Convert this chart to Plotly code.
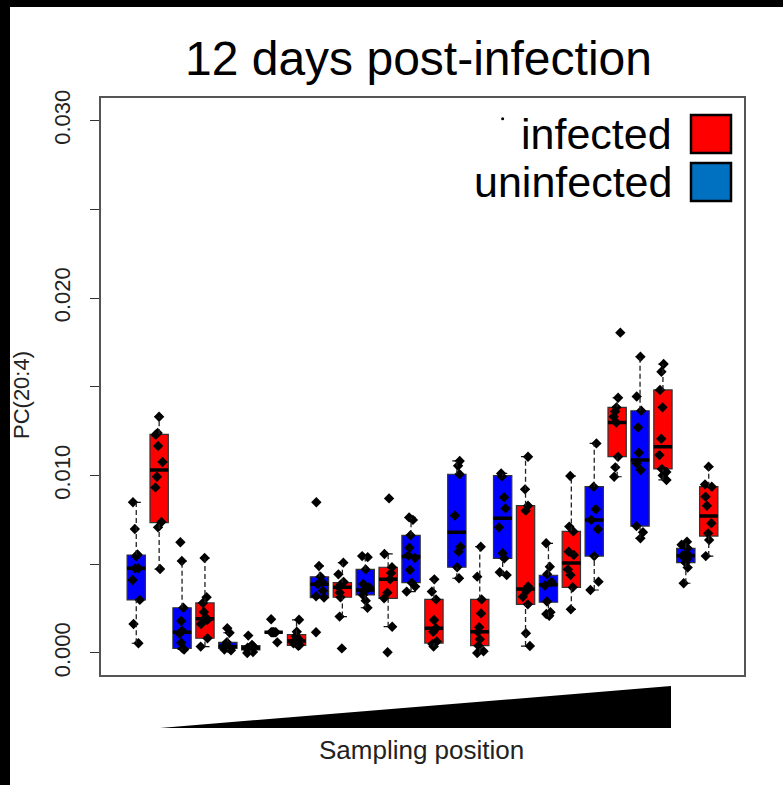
import plotly.graph_objects as go

# ---------------- data (in units of 1e-3) ----------------
positions = list(range(1, 27))
status = ["uninfected", "infected"] * 13

whisker_low = [0.55, 4.73, 0.20, 0.36, 0.15, 0.00, 1.17, 0.40, 3.12, 2.05, 2.55, 1.48, 3.46,
               0.36, 4.21, 0.00, 4.39, 0.39, 2.05, 2.46, 3.55, 9.93, 6.46, 9.75, 3.93, 5.46]
quart1 = [2.99, 7.34, 0.26, 0.83, 0.26, 0.17, 1.17, 0.43, 3.12, 3.14, 3.27, 3.08, 3.96,
          0.56, 4.83, 0.41, 5.33, 2.74, 2.86, 3.70, 5.46, 11.06, 7.15, 10.37, 5.09, 6.59]
medians = [4.77, 10.31, 1.17, 1.93, 0.36, 0.28, 1.17, 0.67, 3.87, 3.70, 3.55, 4.15, 5.43,
           1.39, 6.80, 1.20, 7.59, 3.61, 3.85, 5.07, 7.49, 12.98, 10.87, 11.62, 5.48, 7.72]
quart3 = [5.52, 12.32, 2.55, 2.82, 0.60, 0.41, 1.17, 1.03, 4.29, 3.96, 4.71, 4.83, 6.63,
          3.02, 10.07, 3.02, 9.99, 8.30, 4.38, 6.85, 9.37, 13.84, 13.65, 14.82, 5.90, 9.37]
whisker_high = [8.49, 13.31, 5.18, 5.35, 1.14, 0.45, 1.17, 1.87, 4.90, 5.09, 5.46, 5.58, 7.64,
                4.15, 10.82, 5.99, 10.12, 11.06, 6.18, 9.97, 11.81, 14.38, 16.69, 16.28, 6.27, 10.50]

points = [
    [0.55, 1.63, 2.99, 4.11, 4.77, 4.77, 5.45, 5.55, 6.99, 8.49],
    [4.73, 7.08, 7.38, 9.33, 9.93, 10.76, 11.66, 12.30, 12.40, 13.31],
    [0.20, 0.26, 0.58, 1.10, 1.25, 1.80, 2.55, 5.18, 6.24],
    [0.36, 0.83, 1.63, 1.85, 2.00, 2.31, 2.82, 3.14, 5.35],
    [0.15, 0.20, 0.25, 0.30, 0.36, 0.45, 0.60, 1.14, 1.39],
    [0.00, 0.05, 0.12, 0.20, 0.25, 0.30, 0.35, 0.45, 0.98],
    [0.60, 1.17, 1.17, 1.17, 1.17, 1.17, 1.90],
    [0.40, 0.45, 0.55, 0.67, 0.80, 0.95, 1.20, 1.87],
    [1.17, 3.12, 3.20, 3.50, 3.87, 4.00, 4.30, 4.90, 8.49],
    [0.26, 2.05, 3.14, 3.40, 3.70, 3.85, 4.00, 4.43, 5.09],
    [2.55, 2.95, 3.27, 3.45, 3.70, 3.89, 4.71, 5.40, 5.46],
    [0.04, 1.48, 3.08, 3.40, 4.15, 4.50, 4.83, 5.58, 8.71],
    [3.46, 3.74, 3.96, 4.68, 5.35, 5.50, 5.93, 6.63, 7.50, 7.64],
    [0.36, 0.50, 0.65, 1.20, 1.39, 1.86, 3.02, 3.46, 4.15],
    [4.21, 4.83, 5.71, 5.99, 7.74, 10.07, 10.55, 10.82],
    [0.00, 0.10, 0.41, 0.77, 1.20, 1.45, 2.23, 3.02, 4.30, 5.99],
    [4.39, 4.55, 5.33, 5.62, 7.08, 8.15, 8.77, 9.95, 10.12],
    [0.39, 1.11, 2.74, 3.17, 3.50, 3.75, 8.02, 8.30, 9.22, 11.06],
    [2.10, 2.20, 2.30, 2.90, 3.80, 4.00, 4.44, 4.86, 6.18],
    [2.46, 3.70, 4.39, 4.71, 5.52, 5.71, 6.85, 7.12, 9.97],
    [3.55, 4.02, 5.46, 6.97, 7.50, 8.10, 9.37, 11.81],
    [9.93, 10.46, 11.06, 12.98, 13.31, 13.60, 13.84, 14.38, 18.05],
    [6.46, 6.80, 7.15, 10.31, 10.69, 11.28, 12.71, 13.65, 14.45, 16.69],
    [9.75, 10.00, 10.20, 10.37, 11.15, 12.07, 13.84, 14.82, 15.85, 16.28],
    [3.93, 4.81, 5.09, 5.30, 5.48, 5.60, 5.90, 6.10, 6.27],
    [5.46, 6.37, 6.74, 7.31, 8.30, 8.81, 9.37, 9.50, 10.50],
]
stray_pos = [17]
stray_val = [30.1]

y_ticks = [0.0, 0.005, 0.010, 0.015, 0.020, 0.025, 0.030]
y_tick_labels = ["0.000", "", "0.010", "", "0.020", "", "0.030"]
legend_labels = ["infected", "uninfected"]

UNIT = 1e-3
FILL = {"infected": "#FF0000", "uninfected": "#0000FF"}
LEGEND_FILL = {"infected": "#FF0000", "uninfected": "#0070C0"}
BOX_W = 0.8
CAP_W = 0.4
FONT = "Liberation Sans, Arial, Helvetica, sans-serif"

W, H = 783, 785
L, R, T, B = 101, 39, 98, 110
PW, PH = W - L - R, H - T - B


def px_x(px):
    return (px - L) / PW


def px_y(py):
    return (H - B - py) / PH


def scaled(vals):
    return [v * UNIT for v in vals]


fig = go.Figure()

# dashed whiskers
wx, wy = [], []
for p, lo, a, b, hi in zip(positions, whisker_low, quart1, quart3, whisker_high):
    wx += [p, p, None, p, p, None]
    wy += [lo * UNIT, a * UNIT, None, b * UNIT, hi * UNIT, None]
fig.add_trace(go.Scatter(x=wx, y=wy, mode="lines", hoverinfo="skip",
                         line=dict(color="#222222", width=1.3, dash="5px,3px"), showlegend=False))

for grp in ["uninfected", "infected"]:
    idx = [i for i, s in enumerate(status) if s == grp]
    xs = [positions[i] for i in idx]
    # boxes
    fig.add_trace(go.Box(
        x=xs, q1=scaled([quart1[i] for i in idx]), median=scaled([medians[i] for i in idx]),
        q3=scaled([quart3[i] for i in idx]), lowerfence=scaled([quart1[i] for i in idx]),
        upperfence=scaled([quart3[i] for i in idx]), width=BOX_W, whiskerwidth=0,
        fillcolor=FILL[grp], line=dict(color="#333333", width=1.2), boxpoints=False,
        showlegend=False, hoverinfo="skip"))

for grp in ["uninfected", "infected"]:
    idx = [i for i, s in enumerate(status) if s == grp]
    xs = [positions[i] for i in idx]
    # staples (caps)
    for arr in (whisker_low, whisker_high):
        v = scaled([arr[i] for i in idx])
        fig.add_trace(go.Box(
            x=xs, q1=v, median=v, q3=v, lowerfence=v, upperfence=v, width=CAP_W,
            whiskerwidth=0, fillcolor="rgba(0,0,0,0)", line=dict(color="#111111", width=1.2),
            boxpoints=False, showlegend=False, hoverinfo="skip"))
    # thick medians
    v = scaled([medians[i] for i in idx])
    fig.add_trace(go.Box(
        x=xs, q1=v, median=v, q3=v, lowerfence=v, upperfence=v, width=BOX_W,
        whiskerwidth=0, fillcolor="rgba(0,0,0,0)", line=dict(color="#000000", width=3.5),
        boxpoints=False, showlegend=False, hoverinfo="skip"))

# jittered sample points
px_list, py_list = [], []
for p, vals in zip(positions, points):
    px_list += [p] * len(vals)
    py_list += scaled(vals)
fig.add_trace(go.Box(
    x=px_list, y=py_list, boxpoints="all", jitter=0.5, pointpos=0, width=BOX_W,
    fillcolor="rgba(0,0,0,0)", line=dict(width=0, color="rgba(0,0,0,0)"),
    marker=dict(symbol="diamond", size=8, color="#000000"),
    showlegend=False, hoverinfo="skip"))

# tiny outlier mark near the legend
fig.add_trace(go.Scatter(x=stray_pos, y=scaled(stray_val), mode="markers",
                         marker=dict(size=3, color="#000000"), showlegend=False, hoverinfo="skip"))

shapes = []
annotations = []

# black frame strips (left and top)
shapes.append(dict(type="rect", xref="paper", yref="paper", x0=px_x(0), x1=px_x(10),
                   y0=px_y(H), y1=px_y(0), fillcolor="black", line=dict(width=0), layer="above"))
shapes.append(dict(type="rect", xref="paper", yref="paper", x0=px_x(0), x1=px_x(W),
                   y0=px_y(7), y1=px_y(0), fillcolor="black", line=dict(width=0), layer="above"))

# wedge under the x axis
shapes.append(dict(type="path", xref="paper", yref="paper",
                   path="M {:.5f},{:.5f} L {:.5f},{:.5f} L {:.5f},{:.5f} Z".format(
                       px_x(160), px_y(728), px_x(671), px_y(686), px_x(671), px_y(728)),
                   fillcolor="black", line=dict(width=0)))

# legend
leg_y = [134, 182]
for lab, yy in zip(legend_labels, leg_y):
    annotations.append(dict(text=lab, xref="paper", yref="paper", x=px_x(674), y=px_y(yy),
                            xanchor="right", yanchor="middle", showarrow=False,
                            font=dict(size=43, color="#000000", family=FONT)))
    shapes.append(dict(type="rect", xref="paper", yref="paper",
                       x0=px_x(691), x1=px_x(731), y0=px_y(yy + 19), y1=px_y(yy - 19),
                       fillcolor=LEGEND_FILL[lab], line=dict(color="black", width=2.5),
                       layer="above"))

# title
annotations.append(dict(text="12 days post-infection", xref="paper", yref="paper",
                        x=px_x(418), y=px_y(59), xanchor="center", yanchor="middle",
                        showarrow=False, font=dict(size=48, color="#000000", family=FONT)))
# axis titles
annotations.append(dict(text="PC(20:4)", xref="paper", yref="paper", x=px_x(21),
                        y=px_y(395), xanchor="center", yanchor="middle", textangle=-90,
                        showarrow=False, font=dict(size=22, color="#222222", family=FONT)))
annotations.append(dict(text="Sampling position", xref="paper", yref="paper", x=px_x(421),
                        y=px_y(750), xanchor="center", yanchor="middle",
                        showarrow=False, font=dict(size=26, color="#222222", family=FONT)))

fig.update_layout(
    width=W, height=H, margin=dict(l=L, r=R, t=T, b=B, pad=0),
    paper_bgcolor="white", plot_bgcolor="white", boxmode="overlay",
    font=dict(family=FONT), shapes=shapes, annotations=annotations, showlegend=False,
    xaxis=dict(range=[-0.54, 27.54], showticklabels=False, ticks="", showgrid=False,
               zeroline=False, showline=True, mirror=True, linecolor="#555555", linewidth=1.5),
    yaxis=dict(range=[-0.00124, 0.03127], tickvals=y_ticks, ticktext=y_tick_labels,
               ticks="outside", ticklen=9, tickwidth=1, tickcolor="#333333", tickangle=-90,
               tickfont=dict(size=22, color="#222222", family=FONT), ticklabelstandoff=11,
               showgrid=False, zeroline=False, showline=True, mirror=True,
               linecolor="#555555", linewidth=1.5),
)

fig.write_html("out.html")
